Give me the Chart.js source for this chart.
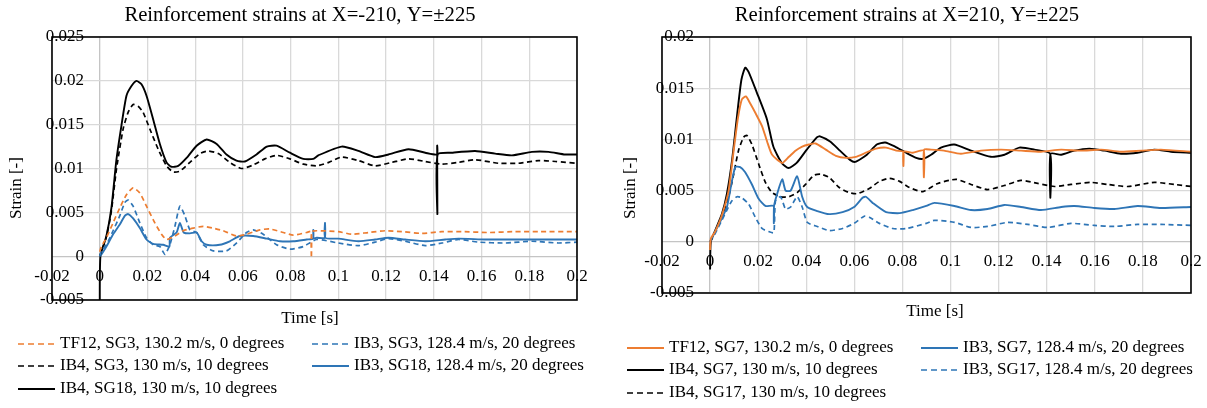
<!DOCTYPE html>
<html>
<head>
<meta charset="utf-8">
<script src="https://cdn.jsdelivr.net/npm/chart.js@4.4.1/dist/chart.umd.min.js"></script>
<style>
  body { margin: 0; background: #fff; width: 1207px; height: 408px; overflow: hidden; position: relative; }
  canvas { position: absolute; top: 0; }
</style>
</head>
<body>
<canvas id="left" width="600" height="408" style="left:0"></canvas>
<canvas id="right" width="607" height="408" style="left:600px"></canvas>
<script>
// ---- tick labels ----
const xTickLabels = ['-0.02', '0', '0.02', '0.04', '0.06', '0.08', '0.1', '0.12', '0.14', '0.16', '0.18', '0.2'];
const leftYTickLabels = ['-0.005', '0', '0.005', '0.01', '0.015', '0.02', '0.025'];
const rightYTickLabels = ['-0.005', '0', '0.005', '0.01', '0.015', '0.02'];

// ---- left chart: X=-210 ----
const tTF12_SG3 = [0, 0.0007, 0.0028, 0.0056, 0.0084, 0.0112, 0.014, 0.0168, 0.0196, 0.0231, 0.0259, 0.028, 0.0315, 0.035, 0.0392, 0.0434, 0.0476, 0.0517, 0.0573, 0.0615, 0.0671, 0.0713, 0.0769, 0.0811, 0.0867, 0.0886, 0.0887, 0.0888, 0.0909, 0.1, 0.1056, 0.1126, 0.1196, 0.1266, 0.135, 0.1434, 0.1517, 0.1629, 0.174, 0.1838, 0.2];
const sTF12_SG3 = [0.0005, 0.0011, 0.0021, 0.0038, 0.0055, 0.007, 0.0078, 0.0072, 0.0057, 0.0038, 0.0025, 0.0019, 0.0023, 0.0029, 0.0032, 0.0034, 0.0032, 0.0029, 0.0023, 0.0025, 0.003, 0.0031, 0.0027, 0.0024, 0.0027, 0.0028, -0.0002, 0.0028, 0.0029, 0.0028, 0.0025, 0.0027, 0.0029, 0.0028, 0.0026, 0.0028, 0.0028, 0.0027, 0.0028, 0.0028, 0.0028];

const tIB3_SG3 = [0, 0.0007, 0.0028, 0.0056, 0.0084, 0.0105, 0.0119, 0.014, 0.0168, 0.0196, 0.0224, 0.0252, 0.0273, 0.0294, 0.0315, 0.0336, 0.0357, 0.0378, 0.0406, 0.0434, 0.0476, 0.0531, 0.0573, 0.0615, 0.0643, 0.0685, 0.0741, 0.0797, 0.0853, 0.0909, 0.1, 0.1084, 0.1154, 0.121, 0.128, 0.1364, 0.1434, 0.1504, 0.1587, 0.1699, 0.1811, 0.1922, 0.2];
const sIB3_SG3 = [0, 0.0006, 0.0013, 0.0029, 0.0046, 0.0061, 0.0064, 0.0057, 0.0038, 0.0021, 0.0013, 0.0011, 0.0002, 0.0013, 0.0034, 0.0057, 0.0046, 0.003, 0.0027, 0.0013, 0.0006, 0.0006, 0.0015, 0.0027, 0.003, 0.0025, 0.0013, 0.0008, 0.0011, 0.0019, 0.0015, 0.0012, 0.0016, 0.002, 0.0017, 0.0012, 0.0015, 0.0019, 0.0016, 0.0015, 0.0017, 0.0015, 0.0016];

const tIB4_SG3 = [0, 0.0028, 0.0049, 0.007, 0.0098, 0.0119, 0.014, 0.0161, 0.0182, 0.021, 0.0245, 0.028, 0.0308, 0.0336, 0.0378, 0.042, 0.0455, 0.0497, 0.0545, 0.0594, 0.0643, 0.0692, 0.0741, 0.0797, 0.0853, 0.0909, 0.096, 0.1014, 0.1084, 0.1154, 0.1224, 0.1294, 0.1364, 0.1434, 0.1504, 0.1573, 0.167, 0.1755, 0.1839, 0.191, 0.2];
const sIB4_SG3 = [0, 0.0022, 0.0052, 0.0099, 0.0145, 0.0164, 0.0173, 0.0171, 0.0164, 0.0145, 0.0122, 0.0103, 0.0096, 0.0097, 0.0107, 0.0117, 0.012, 0.0117, 0.0107, 0.01, 0.0104, 0.0111, 0.0115, 0.0111, 0.0105, 0.0103, 0.0107, 0.0113, 0.0109, 0.0103, 0.0107, 0.0111, 0.0108, 0.0105, 0.0107, 0.011, 0.0106, 0.0106, 0.0109, 0.0108, 0.0106];

const tIB3_SG18 = [0, 0.0007, 0.0028, 0.0056, 0.0084, 0.0105, 0.0119, 0.014, 0.0168, 0.0196, 0.0224, 0.0266, 0.0292, 0.0294, 0.0322, 0.0336, 0.0352, 0.0378, 0.0406, 0.0427, 0.0448, 0.0503, 0.0545, 0.0587, 0.0643, 0.07, 0.0755, 0.0811, 0.0867, 0.0894, 0.0895, 0.0896, 0.0909, 0.0943, 0.0944, 0.0945, 0.1, 0.1084, 0.1154, 0.121, 0.128, 0.1364, 0.1448, 0.1504, 0.1615, 0.1727, 0.1839, 0.2];
const sIB3_SG18 = [0, 0.0002, 0.0011, 0.0025, 0.0036, 0.0046, 0.0048, 0.0043, 0.0032, 0.0019, 0.0014, 0.0013, 0.0011, 0.0021, 0.0027, 0.0038, 0.0027, 0.0026, 0.0027, 0.0017, 0.0013, 0.0013, 0.0017, 0.0023, 0.0023, 0.002, 0.0017, 0.0017, 0.0019, 0.002, 0.003, 0.002, 0.0021, 0.0021, 0.0038, 0.0021, 0.002, 0.0017, 0.0019, 0.0021, 0.0019, 0.0017, 0.0019, 0.002, 0.0019, 0.0019, 0.0019, 0.0019];

const tIB4_SG18 = [0, 0.0003, 0.0028, 0.0049, 0.007, 0.0091, 0.0112, 0.0133, 0.0154, 0.0175, 0.0196, 0.0224, 0.0252, 0.028, 0.03, 0.0329, 0.0364, 0.0406, 0.0448, 0.049, 0.0531, 0.0573, 0.0608, 0.0657, 0.07, 0.0741, 0.0797, 0.0853, 0.0895, 0.0916, 0.1014, 0.1084, 0.1154, 0.121, 0.1294, 0.1364, 0.1413, 0.1414, 0.1415, 0.1416, 0.1476, 0.1573, 0.1657, 0.1727, 0.1811, 0.1881, 0.195, 0.2];
const sIB4_SG18 = [-0.0062, 0, 0.0023, 0.0055, 0.011, 0.0149, 0.0183, 0.0194, 0.02, 0.0196, 0.0183, 0.0156, 0.0128, 0.0107, 0.0102, 0.0103, 0.0112, 0.0126, 0.0133, 0.0128, 0.0116, 0.0109, 0.0108, 0.0116, 0.0125, 0.0126, 0.0118, 0.0111, 0.0111, 0.0115, 0.0125, 0.012, 0.0113, 0.0116, 0.0122, 0.0118, 0.0116, 0.0126, 0.0048, 0.0116, 0.0118, 0.012, 0.0117, 0.0115, 0.0119, 0.0119, 0.0116, 0.0116];

// ---- right chart: X=210 ----
const tTF12_SG7 = [0, 0.0003, 0.0021, 0.0049, 0.0077, 0.0098, 0.0116, 0.0132, 0.0149, 0.0167, 0.0188, 0.0216, 0.0237, 0.0258, 0.03, 0.0328, 0.0355, 0.0383, 0.0411, 0.0439, 0.0481, 0.0523, 0.0565, 0.0606, 0.0648, 0.069, 0.0732, 0.0774, 0.0803, 0.0804, 0.0805, 0.0843, 0.0888, 0.0889, 0.089, 0.0919, 0.0973, 0.1043, 0.1126, 0.121, 0.1293, 0.1376, 0.146, 0.1543, 0.1626, 0.1709, 0.1792, 0.1875, 0.2];
const sTF12_SG7 = [-0.0008, 0.0003, 0.001, 0.0026, 0.005, 0.0089, 0.0121, 0.0139, 0.0142, 0.0135, 0.0126, 0.0113, 0.0098, 0.0085, 0.0077, 0.0083, 0.0089, 0.0093, 0.0095, 0.0096, 0.009, 0.0084, 0.0082, 0.0083, 0.0087, 0.0091, 0.0092, 0.0089, 0.0088, 0.0074, 0.0088, 0.0087, 0.0089, 0.0063, 0.009, 0.009, 0.0089, 0.0086, 0.0089, 0.009, 0.0089, 0.0088, 0.009, 0.0089, 0.009, 0.0088, 0.0089, 0.009, 0.0088];

const tIB3_SG7 = [0, 0.0021, 0.0049, 0.007, 0.0088, 0.0105, 0.0125, 0.0146, 0.0174, 0.0202, 0.023, 0.0264, 0.0265, 0.0266, 0.0279, 0.03, 0.0314, 0.0335, 0.0362, 0.0383, 0.0404, 0.0446, 0.0495, 0.0551, 0.0599, 0.0634, 0.0648, 0.0676, 0.0732, 0.0788, 0.0843, 0.0899, 0.0933, 0.1016, 0.1085, 0.1154, 0.1224, 0.1293, 0.1376, 0.146, 0.1515, 0.1598, 0.1681, 0.1778, 0.1875, 0.2];
const sIB3_SG7 = [0, 0.001, 0.0023, 0.0034, 0.0056, 0.0073, 0.0073, 0.0068, 0.0056, 0.0042, 0.0035, 0.0035, 0.0018, 0.0035, 0.0047, 0.0061, 0.005, 0.005, 0.0064, 0.0044, 0.0034, 0.003, 0.0027, 0.0029, 0.0034, 0.0043, 0.0044, 0.0038, 0.0029, 0.0028, 0.0031, 0.0035, 0.0038, 0.0035, 0.0031, 0.0032, 0.0036, 0.0034, 0.0031, 0.0034, 0.0035, 0.0033, 0.0032, 0.0035, 0.0033, 0.0034];

const tIB4_SG7 = [0, 0.0003, 0.0021, 0.0049, 0.007, 0.0091, 0.0112, 0.013, 0.0146, 0.016, 0.0194, 0.0236, 0.0263, 0.0298, 0.0326, 0.036, 0.0402, 0.0444, 0.0457, 0.0499, 0.054, 0.0582, 0.0603, 0.0652, 0.0693, 0.0728, 0.0769, 0.0815, 0.0857, 0.0885, 0.0919, 0.096, 0.1015, 0.1085, 0.1168, 0.1224, 0.1286, 0.1349, 0.1414, 0.1415, 0.1416, 0.146, 0.1515, 0.1577, 0.164, 0.1709, 0.1778, 0.1847, 0.1917, 0.2];
const sIB4_SG7 = [-0.0027, 0, 0.0011, 0.0027, 0.0047, 0.0079, 0.0123, 0.0158, 0.017, 0.0166, 0.0146, 0.012, 0.0093, 0.0077, 0.0072, 0.0077, 0.009, 0.0102, 0.0103, 0.0098, 0.0089, 0.008, 0.0078, 0.0085, 0.0095, 0.0097, 0.0093, 0.0087, 0.0082, 0.0081, 0.0085, 0.0092, 0.0095, 0.0089, 0.0083, 0.0085, 0.0092, 0.009, 0.0086, 0.0043, 0.0086, 0.0085, 0.0089, 0.0091, 0.0089, 0.0086, 0.0087, 0.009, 0.0088, 0.0087];

const tIB3_SG17 = [0, 0.0021, 0.0049, 0.007, 0.0091, 0.0112, 0.0132, 0.016, 0.0188, 0.0216, 0.0244, 0.0265, 0.0272, 0.0293, 0.0314, 0.0335, 0.0362, 0.0383, 0.0404, 0.0446, 0.0495, 0.0551, 0.0599, 0.0641, 0.0662, 0.0704, 0.076, 0.0815, 0.0899, 0.0933, 0.1016, 0.1085, 0.1154, 0.1238, 0.1321, 0.1404, 0.1501, 0.1598, 0.1681, 0.1778, 0.1875, 0.2];
const sIB3_SG17 = [0, 0.0008, 0.0021, 0.0031, 0.004, 0.0044, 0.0043, 0.0037, 0.0024, 0.0013, 0.001, 0.0009, 0.004, 0.0044, 0.0032, 0.0034, 0.0044, 0.0034, 0.0019, 0.0015, 0.0011, 0.0013, 0.0018, 0.0025, 0.0024, 0.0018, 0.0013, 0.0013, 0.0018, 0.0021, 0.0019, 0.0014, 0.0015, 0.0019, 0.0017, 0.0014, 0.0018, 0.0016, 0.0015, 0.0017, 0.0017, 0.0016];

const tIB4_SG17 = [0, 0.0021, 0.0049, 0.0077, 0.0098, 0.0118, 0.0139, 0.0153, 0.0174, 0.0202, 0.023, 0.0258, 0.0293, 0.0328, 0.0362, 0.0397, 0.0432, 0.046, 0.0495, 0.0537, 0.0579, 0.0613, 0.0662, 0.0704, 0.0746, 0.0788, 0.0829, 0.0885, 0.0947, 0.1023, 0.1085, 0.1154, 0.1224, 0.1293, 0.1363, 0.1432, 0.1501, 0.1584, 0.1654, 0.1737, 0.1848, 0.1931, 0.2];
const sIB4_SG17 = [0, 0.001, 0.0024, 0.0044, 0.0066, 0.0089, 0.0102, 0.0104, 0.0095, 0.0076, 0.0058, 0.0048, 0.0044, 0.0044, 0.0048, 0.0056, 0.0065, 0.0066, 0.0063, 0.0053, 0.0048, 0.0047, 0.0052, 0.0059, 0.0062, 0.0059, 0.0053, 0.0049, 0.0057, 0.0061, 0.0056, 0.0051, 0.0055, 0.006, 0.0057, 0.0054, 0.0056, 0.0058, 0.0056, 0.0054, 0.0058, 0.0056, 0.0054];

const ORANGE = '#ED7D31';
const BLUE = '#2E75B6';
const BLACK = '#000000';
const DASH = [5, 3.5];
const FONT = '"Liberation Serif", "Times New Roman", serif';

function series(label, ts, ss, color, dashed) {
  return {
    label,
    data: ts.map((t, i) => ({ x: t, y: ss[i] })),
    borderColor: color,
    borderWidth: dashed ? 1.7 : 1.9,
    borderDash: dashed ? DASH : [],
    pointRadius: 0,
    tension: 0.2,
    fill: false
  };
}

// draws the frame, tick labels, titles and legend the way the original sheet does
const decor = {
  id: 'decor',
  afterDraw(chart, args, o) {
    const { ctx, chartArea: a, scales: { x, y } } = chart;
    ctx.save();
    ctx.strokeStyle = '#000';
    ctx.lineWidth = 1.6;
    ctx.strokeRect(a.left, a.top, a.right - a.left, a.bottom - a.top);

    ctx.fillStyle = '#000';
    ctx.font = '17px ' + FONT;
    ctx.textBaseline = 'middle';
    ctx.textAlign = 'right';
    o.yLabels.forEach(l => ctx.fillText(l, a.left + 32, y.getPixelForValue(parseFloat(l))));
    ctx.textAlign = 'center';
    const xy = y.getPixelForValue(0) + 20;
    xTickLabels.forEach(l => ctx.fillText(l, x.getPixelForValue(parseFloat(l)), xy));

    ctx.fillText('Time [s]', o.xTitle[0], o.xTitle[1]);
    ctx.save();
    ctx.translate(o.yTitle[0], o.yTitle[1]);
    ctx.rotate(-Math.PI / 2);
    ctx.fillText('Strain [-]', 0, 0);
    ctx.restore();

    ctx.font = '20.7px ' + FONT;
    ctx.fillText(o.title, o.titlePos[0], o.titlePos[1]);

    // legend
    ctx.font = '17px ' + FONT;
    ctx.textAlign = 'left';
    o.legend.forEach(([idx, lx, ly]) => {
      const ds = chart.data.datasets[idx];
      ctx.beginPath();
      ctx.strokeStyle = ds.borderColor;
      ctx.lineWidth = ds.borderWidth;
      ctx.setLineDash(ds.borderDash.length ? [6, 4] : []);
      ctx.moveTo(lx, ly);
      ctx.lineTo(lx + 37, ly);
      ctx.stroke();
      ctx.setLineDash([]);
      ctx.fillText(ds.label, lx + 42, ly);
    });
    ctx.restore();
  }
};

function makeChart(id, datasets, cfg) {
  const grid = {
    color: c => (c.tick && c.tick.value === 0 ? '#c4c4c4' : '#d9d9d9'),
    lineWidth: 1.3,
    drawTicks: false
  };
  return new Chart(document.getElementById(id), {
    type: 'line',
    data: { datasets },
    options: {
      animation: false,
      responsive: false,
      events: [],
      layout: { padding: cfg.padding },
      scales: {
        x: {
          type: 'linear', min: -0.02, max: 0.2,
          afterBuildTicks: s => { s.ticks = xTickLabels.map(l => ({ value: parseFloat(l) })); },
          ticks: { display: false },
          grid,
          border: { display: false }
        },
        y: {
          type: 'linear', min: -0.005, max: cfg.yMax,
          afterBuildTicks: s => { s.ticks = cfg.yLabels.map(l => ({ value: parseFloat(l) })); },
          ticks: { display: false },
          grid,
          border: { display: false }
        }
      },
      plugins: {
        legend: { display: false },
        tooltip: { enabled: false },
        decor: cfg
      }
    },
    plugins: [decor]
  });
}

makeChart('left', [
  series('TF12, SG3, 130.2 m/s, 0 degrees', tTF12_SG3, sTF12_SG3, ORANGE, true),
  series('IB3, SG3, 128.4 m/s, 20 degrees', tIB3_SG3, sIB3_SG3, BLUE, true),
  series('IB4, SG3, 130 m/s, 10 degrees', tIB4_SG3, sIB4_SG3, BLACK, true),
  series('IB3, SG18, 128.4 m/s, 20 degrees', tIB3_SG18, sIB3_SG18, BLUE, false),
  series('IB4, SG18, 130 m/s, 10 degrees', tIB4_SG18, sIB4_SG18, BLACK, false)
], {
  padding: { left: 52, top: 37, right: 23, bottom: 108 },
  yMax: 0.025,
  yLabels: leftYTickLabels,
  title: 'Reinforcement strains at X=-210, Y=\u00B1225',
  titlePos: [300, 16],
  xTitle: [310, 319],
  yTitle: [17, 188],
  legend: [[0, 18, 344], [1, 312, 344], [2, 18, 366], [3, 312, 366], [4, 18, 389]]
});

makeChart('right', [
  series('TF12, SG7, 130.2 m/s, 0 degrees', tTF12_SG7, sTF12_SG7, ORANGE, false),
  series('IB3, SG7, 128.4 m/s, 20 degrees', tIB3_SG7, sIB3_SG7, BLUE, false),
  series('IB4, SG7, 130 m/s, 10 degrees', tIB4_SG7, sIB4_SG7, BLACK, false),
  series('IB3, SG17, 128.4 m/s, 20 degrees', tIB3_SG17, sIB3_SG17, BLUE, true),
  series('IB4, SG17, 130 m/s, 10 degrees', tIB4_SG17, sIB4_SG17, BLACK, true)
], {
  padding: { left: 62, top: 37, right: 16, bottom: 115 },
  yMax: 0.02,
  yLabels: rightYTickLabels,
  title: 'Reinforcement strains at X=210, Y=\u00B1225',
  titlePos: [307, 16],
  xTitle: [335, 312],
  yTitle: [31, 188],
  legend: [[0, 27, 348], [1, 321, 348], [2, 27, 370], [3, 321, 370], [4, 27, 393]]
});
</script>
</body>
</html>
